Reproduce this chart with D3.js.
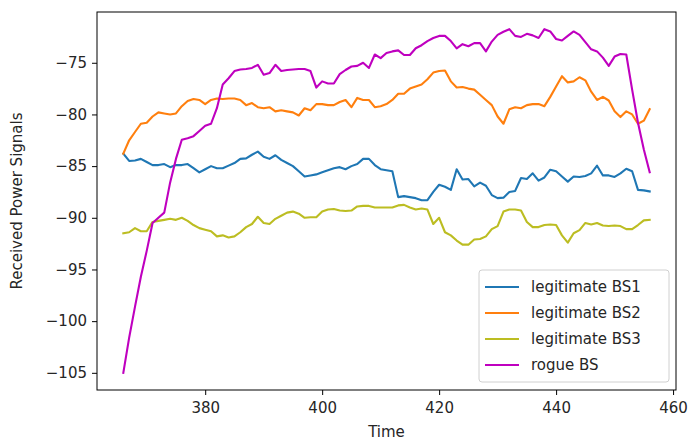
<!DOCTYPE html>
<html>
<head>
<meta charset="utf-8">
<script src="https://cdn.jsdelivr.net/npm/d3@7"></script>
<style>
html,body{margin:0;padding:0;background:#fff;}
svg{display:block;font-family:"DejaVu Sans",sans-serif;}
</style>
</head>
<body>
<svg id="chart" width="689" height="443"></svg>
<script>
const time = d3.range(366, 457);
const seriesNames = ["legitimate BS1", "legitimate BS2", "legitimate BS3", "rogue BS"];
const colors = ["#1f77b4", "#ff7f0e", "#bcbd22", "#bf00bf"];
const xTicks = [380, 400, 420, 440, 460];
const yTicks = [-105, -100, -95, -90, -85, -80, -75];

const bs1 = [-83.8,-84.5,-84.45,-84.3,-84.6,-84.9,-84.9,-84.8,-85.1,-84.9,
-84.9,-84.8,-85.2,-85.6,-85.3,-85.0,-85.2,-85.2,-84.95,-84.7,
-84.3,-84.25,-83.9,-83.6,-84.1,-84.3,-83.95,-84.4,-84.7,-85.0,
-85.5,-86.0,-85.9,-85.8,-85.6,-85.4,-85.2,-85.1,-85.3,-85.0,
-84.8,-84.3,-84.3,-84.9,-85.3,-85.4,-85.5,-88.0,-87.9,-88.0,
-88.1,-88.3,-88.3,-87.5,-86.8,-87.0,-87.3,-85.3,-86.3,-86.25,
-86.96,-86.6,-86.9,-87.8,-88.1,-88.05,-87.5,-87.4,-86.15,-86.25,
-85.7,-86.4,-86.1,-85.35,-85.5,-86.0,-86.5,-86.0,-86.05,-85.95,
-85.7,-84.96,-85.9,-85.9,-86.05,-85.7,-85.25,-85.5,-87.3,-87.35,
-87.45];

const bs2 = [-83.8,-82.5,-81.7,-80.9,-80.8,-80.2,-79.8,-79.9,-80.0,-79.9,
-79.2,-78.7,-78.5,-78.6,-79.0,-78.6,-78.45,-78.5,-78.45,-78.45,
-78.6,-79.1,-78.9,-79.3,-79.4,-79.3,-79.7,-79.6,-79.7,-79.8,
-80.1,-79.4,-79.6,-79.0,-79.0,-79.1,-79.1,-78.8,-78.6,-79.3,
-78.4,-78.6,-78.6,-79.3,-79.2,-79.0,-78.6,-78.0,-78.0,-77.5,
-77.3,-77.1,-76.6,-75.95,-75.8,-75.75,-76.8,-77.4,-77.35,-77.5,
-77.6,-78.1,-78.6,-79.1,-80.2,-80.9,-79.5,-79.3,-79.4,-79.1,
-79.0,-79.0,-79.2,-78.3,-77.3,-76.3,-76.9,-76.8,-76.4,-76.7,
-77.8,-78.6,-78.3,-78.65,-79.7,-80.25,-79.7,-80.0,-80.9,-80.6,
-79.5];

const bs3 = [-91.5,-91.4,-91.0,-91.3,-91.3,-90.4,-90.3,-90.2,-90.1,-90.2,
-90.0,-90.3,-90.7,-91.0,-91.15,-91.3,-91.8,-91.7,-91.9,-91.8,
-91.4,-90.9,-90.6,-89.9,-90.5,-90.6,-90.1,-89.8,-89.5,-89.4,
-89.6,-90.0,-89.95,-89.95,-89.4,-89.2,-89.15,-89.3,-89.35,-89.3,
-88.9,-88.85,-88.85,-89.0,-89.0,-89.0,-89.0,-88.8,-88.75,-89.0,
-89.2,-89.1,-89.2,-90.6,-90.0,-91.4,-91.7,-92.2,-92.6,-92.6,
-92.1,-92.05,-91.8,-91.1,-90.8,-89.4,-89.2,-89.2,-89.3,-90.4,
-90.9,-90.9,-90.7,-90.65,-90.7,-91.7,-92.4,-91.5,-91.2,-90.5,
-90.65,-90.5,-90.75,-90.8,-90.75,-90.8,-91.1,-91.1,-90.7,-90.25,
-90.2];

const rogue = [-105.0,-101.6,-98.6,-95.7,-93.2,-90.5,-90.0,-89.5,-86.6,-84.3,
-82.45,-82.3,-82.1,-81.6,-81.1,-80.9,-79.4,-77.1,-76.5,-75.8,
-75.65,-75.6,-75.5,-75.2,-76.16,-76.0,-75.2,-75.8,-75.7,-75.65,
-75.6,-75.6,-75.8,-77.4,-76.8,-77.0,-77.0,-76.1,-75.7,-75.36,
-75.3,-75.0,-75.5,-74.2,-74.55,-74.06,-73.9,-73.8,-74.25,-74.25,
-73.6,-73.3,-72.9,-72.6,-72.4,-72.4,-72.9,-73.6,-73.2,-73.4,
-73.1,-73.1,-73.9,-72.95,-72.3,-72.0,-71.75,-72.4,-72.5,-72.2,
-72.35,-72.6,-71.75,-71.97,-72.7,-72.85,-72.4,-71.97,-72.3,-73.0,
-73.7,-73.9,-74.5,-75.3,-74.4,-74.15,-74.2,-77.6,-80.8,-83.4,
-85.6];

const series = [bs1, bs2, bs3, rogue];

const svg = d3.select("#chart");
const L = 97, R = 676, T = 12, B = 390;
const fs = 15;

// matplotlib-like 5% margins
const xExt = d3.extent(time);
const xPad = (xExt[1] - xExt[0]) * 0.05;
const allY = series.flat();
const yExt = d3.extent(allY);
const yPad = (yExt[1] - yExt[0]) * 0.05;

const x = d3.scaleLinear().domain([xExt[0] - xPad, xExt[1] + xPad]).range([L, R]);
const y = d3.scaleLinear().domain([yExt[0] - yPad, yExt[1] + yPad]).range([B, T]);

const fmt = d => d < 0 ? "\u2212" + Math.abs(d) : String(d);

// lines
const line = d3.line().x((d, i) => x(time[i])).y(d => y(d));
const plot = svg.append("g");
series.forEach((s, k) => {
  plot.append("path").datum(s)
    .attr("d", line)
    .attr("fill", "none")
    .attr("stroke", colors[k])
    .attr("stroke-width", 2.1)
    .attr("stroke-linejoin", "round")
    .attr("stroke-linecap", "square");
});

// axes
const xAxis = d3.axisBottom(x).tickValues(xTicks).tickSize(5).tickPadding(5).tickFormat(d => d);
const yAxis = d3.axisLeft(y).tickValues(yTicks).tickSize(5).tickPadding(5).tickFormat(fmt);

const gx = svg.append("g").attr("transform", `translate(0,${B})`).call(xAxis);
const gy = svg.append("g").attr("transform", `translate(${L},0)`).call(yAxis);
[gx, gy].forEach(g => {
  g.select(".domain").remove();
  g.selectAll(".tick line").attr("stroke", "#000").attr("stroke-width", 1);
  g.selectAll(".tick text").attr("fill", "#262626").attr("font-size", fs)
    .attr("font-family", "DejaVu Sans");
});
gx.selectAll(".tick text").attr("dy", "0.85em");

// frame
svg.append("rect").attr("x", L).attr("y", T).attr("width", R - L).attr("height", B - T)
  .attr("fill", "none").attr("stroke", "#000").attr("stroke-width", 1);

// axis labels
svg.append("text").attr("x", (L + R) / 2).attr("y", 437).attr("text-anchor", "middle")
  .attr("font-size", fs).attr("fill", "#262626").text("Time");
svg.append("text").attr("transform", `translate(22,${(T + B) / 2}) rotate(-90)`)
  .attr("text-anchor", "middle").attr("font-size", fs).attr("fill", "#262626")
  .text("Received Power Signals");

// legend
const lg = svg.append("g");
const lx = 479, ly = 270, lw = 190, lh = 112;
lg.append("rect").attr("x", lx).attr("y", ly).attr("width", lw).attr("height", lh)
  .attr("rx", 3).attr("fill", "#fff").attr("fill-opacity", 0.8)
  .attr("stroke", "#d0d0d0").attr("stroke-width", 1);
seriesNames.forEach((n, k) => {
  const yy = ly + 17 + k * 26;
  lg.append("line").attr("x1", lx + 6).attr("x2", lx + 40).attr("y1", yy).attr("y2", yy)
    .attr("stroke", colors[k]).attr("stroke-width", 2.1);
  lg.append("text").attr("x", lx + 52).attr("y", yy).attr("dy", "0.35em")
    .attr("font-size", fs).attr("fill", "#262626").text(n);
});
</script>
</body>
</html>
